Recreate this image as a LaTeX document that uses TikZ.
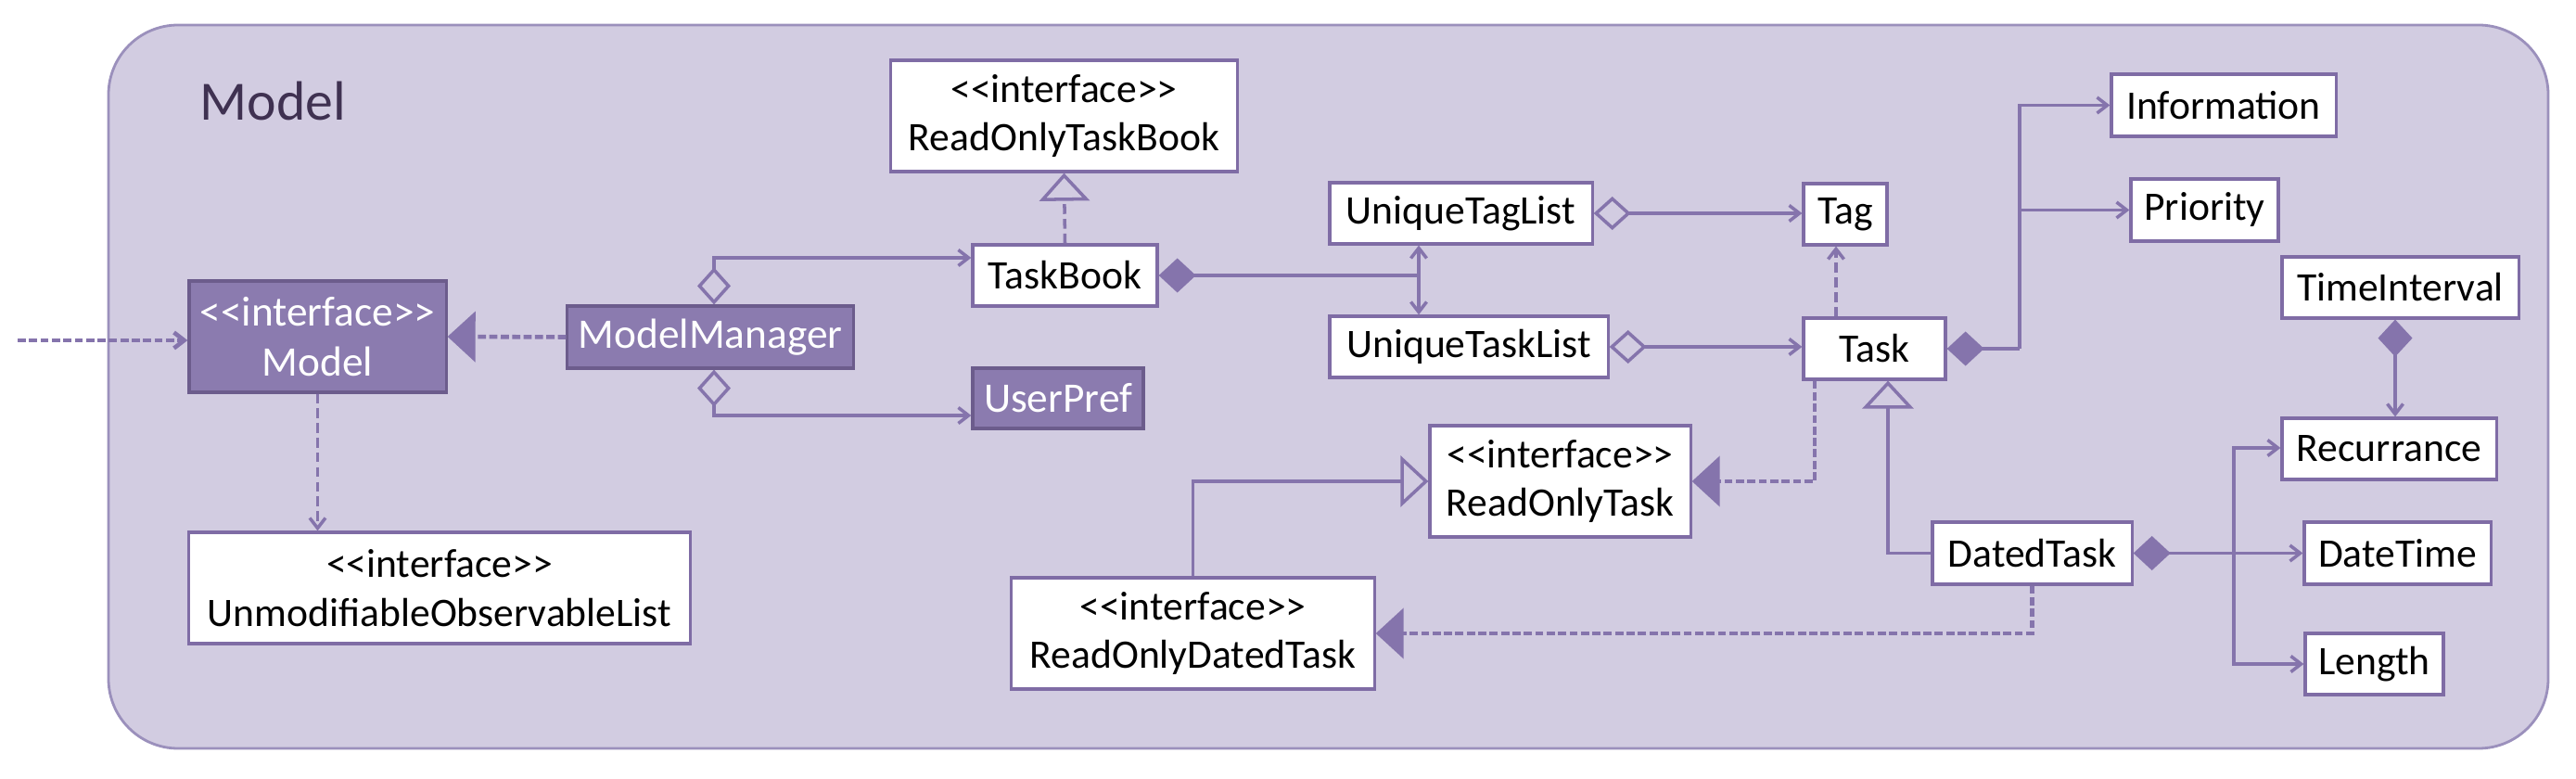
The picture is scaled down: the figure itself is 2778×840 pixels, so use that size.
\documentclass[tikz,border=0pt]{standalone}
\usepackage{fontspec}
\setmainfont{Carlito}[Ligatures=TeXOff]
\usetikzlibrary{arrows.meta}
\definecolor{modelbg}{HTML}{D2CCE1}
\definecolor{modelrim}{HTML}{9B90BC}
\definecolor{umlline}{HTML}{8574AC}
\definecolor{umlborder}{HTML}{7F6CA5}
\definecolor{umlfill}{HTML}{8B7BAF}
\definecolor{modeltitle}{HTML}{3F3151}
\newcommand{\iface}[1]{<<interface>>\\#1}
\tikzset{
    cls/.style={draw=umlborder, fill=white, line width=0.9pt, inner sep=0pt, align=center,
        font=\fontsize{12.4}{15}\selectfont},
    clsfill/.style={cls, fill=umlfill, draw=umlborder!85!black, text=white,
        font=\fontsize{12.9}{15.5}\selectfont},
    link/.style={draw=umlline, line width=1pt},
    assoc/.style={link, -{Straight Barb[length=0.11cm, width=0.17cm]}},
    dep/.style={assoc, dash pattern=on 3pt off 1.5pt},
    realize/.style={link, line width=1.3pt, dash pattern=on 2.5pt off 1pt,
        -{Triangle[length=0.30cm, width=0.54cm]}},
    realizeopen/.style={link, dash pattern=on 3pt off 1.5pt,
        -{Triangle[open, length=0.30cm, width=0.54cm]}},
    general/.style={link, -{Triangle[open, length=0.30cm, width=0.55cm]}},
    aggr/.style={link, {Diamond[open, length=0.40cm, width=0.36cm]}-{Straight Barb[length=0.11cm, width=0.17cm]}},
    compo/.style={link, {Diamond[length=0.40cm, width=0.37cm]}-},
    compoarr/.style={link, {Diamond[length=0.40cm, width=0.37cm]}-{Straight Barb[length=0.11cm, width=0.17cm]}},
}

\begin{document}
\begin{tikzpicture}[x=0.01cm, y=0.01cm]
    \useasboundingbox (0,0) rectangle (2778,-840);
    \draw[draw=modelrim, fill=modelbg, line width=0.8pt, rounded corners=0.75cm] (117,-27) rectangle (2748,-807);
    \node[anchor=base west, text=modeltitle, font=\fontsize{17}{20}\selectfont] (title) at (203,-130) {Model};

    % classes
    \node[clsfill, minimum width=2.77cm, minimum height=1.20cm] (model) at (342.5,-363) {\iface{Model}};
    \node[clsfill, minimum width=3.08cm, minimum height=0.67cm] (mm) at (766,-363.5) {ModelManager};
    \node[cls, minimum width=5.40cm, minimum height=1.20cm] (uol) at (474,-634) {\iface{UnmodifiableObservableList}};
    \node[cls, minimum width=3.73cm, minimum height=1.20cm] (rotb) at (1147.5,-125) {\iface{ReadOnlyTaskBook}};
    \node[cls, minimum width=1.99cm, minimum height=0.66cm] (tb) at (1148.5,-297) {TaskBook};
    \node[clsfill, minimum width=1.84cm, minimum height=0.65cm] (up) at (1141,-429.5) {UserPref};
    \node[cls, minimum width=2.83cm, minimum height=0.66cm] (utl) at (1575.5,-230) {UniqueTagList};
    \node[cls, minimum width=3.00cm, minimum height=0.66cm] (utsl) at (1584,-374) {UniqueTaskList};
    \node[cls, minimum width=0.90cm, minimum height=0.66cm] (tag) at (1990,-231) {Tag};
    \node[cls, minimum width=1.53cm, minimum height=0.66cm] (task) at (2021.5,-376) {Task};
    \node[cls, minimum width=2.42cm, minimum height=0.67cm] (info) at (2398,-113.5) {Information};
    \node[cls, minimum width=1.59cm, minimum height=0.67cm] (prio) at (2377.5,-226.5) {Priority};
    \node[cls, minimum width=2.55cm, minimum height=0.66cm] (ti) at (2588.5,-310) {TimeInterval};
    \node[cls, minimum width=2.31cm, minimum height=0.66cm] (rec) at (2576.5,-484) {Recurrance};
    \node[cls, minimum width=2.01cm, minimum height=0.67cm] (dtm) at (2585.5,-596.5) {DateTime};
    \node[cls, minimum width=1.49cm, minimum height=0.66cm] (len) at (2560.5,-716) {Length};
    \node[cls, minimum width=2.15cm, minimum height=0.67cm] (dt) at (2191.5,-596.5) {DatedTask};
    \node[cls, minimum width=2.81cm, minimum height=1.20cm] (rot) at (1682.5,-519) {\iface{ReadOnlyTask}};
    \node[cls, minimum width=3.91cm, minimum height=1.20cm] (rodt) at (1286.5,-683) {\iface{ReadOnlyDatedTask}};

    % junctions
    \coordinate (ext) at (19,-367);
    \coordinate (tbj) at (1530,-297);
    \coordinate (tkj) at (2178,-376);
    \coordinate (dtj) at (2409,-596.5);

    % connectors
    \draw[link, line width=1.3pt, dash pattern=on 2.5pt off 1pt, -{Straight Barb[length=0.11cm, width=0.17cm]}] (ext) -- (ext -| model.west);
    \draw[realize] (mm.west) -- (model.east);
    \draw[dep] (model.south) -- (model.south |- uol.north);
    \draw[aggr] ([xshift=0.04cm]mm.north) |- ([yshift=0.19cm]tb.west);
    \draw[aggr] ([xshift=0.04cm]mm.south) |- ([yshift=-0.185cm]up.west);
    \draw[realizeopen] (tb.north) -- (rotb.south);
    \draw[compo] (tb.east) -- (tbj);
    \draw[assoc] (tbj) -- (tbj |- utl.south);
    \draw[assoc] (tbj) -- (tbj |- utsl.north);
    \draw[aggr] (utl.east) -- (utl.east -| tag.west);
    \draw[aggr] (utsl.east) -- (utsl.east -| task.west);
    \draw[dep] ([xshift=-0.415cm]task.north) -- ([xshift=-0.415cm]task.north |- tag.south);
    \draw[compo] (task.east) -- (tkj);
    \draw[assoc] (tkj) |- (info.west);
    \draw[assoc] (tkj |- prio.west) -- (prio.west);
    \draw[compoarr] ([xshift=-0.055cm]ti.south) -- ([xshift=-0.055cm]ti.south |- rec.north);
    \draw[general] (dt.west) -| ([xshift=0.145cm]task.south);
    \draw[realize] ([xshift=-0.645cm]task.south) |- (rot.east);
    \draw[general] (rodt.north) |- (rot.west);
    \draw[realize] (dt.south) |- (rodt.east);
    \draw[compoarr] (dt.east) -- (dtm.west);
    \draw[assoc] (dtj) |- ([yshift=0.01cm]rec.west);
    \draw[assoc] (dtj) |- (len.west);
\end{tikzpicture}
\end{document}
